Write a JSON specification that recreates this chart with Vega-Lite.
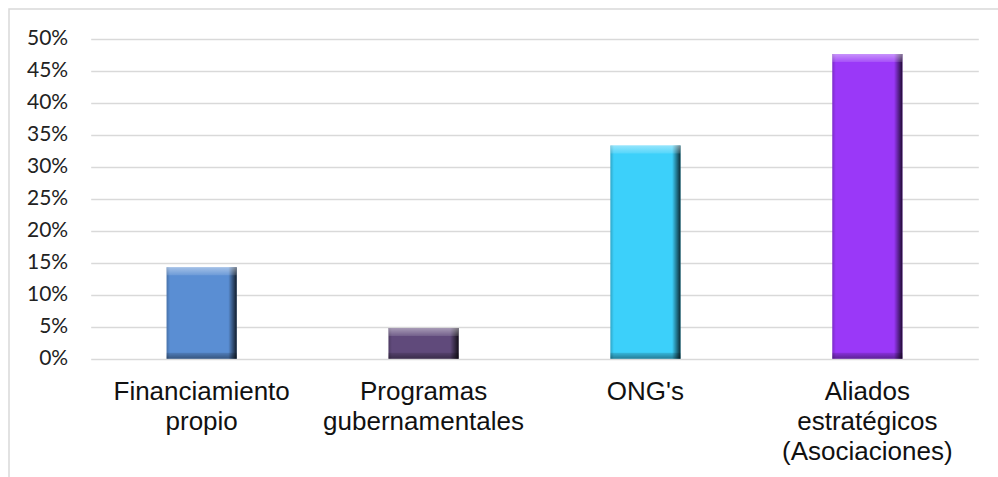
{
  "$schema": "https://vega.github.io/schema/vega-lite/v6.json",
  "autosize": {"type": "none"},
  "padding": {"left": 9, "top": 9, "right": -3, "bottom": -3},
  "width": 992,
  "height": 471,
  "background": "white",
  "config": {
    "view": {"stroke": "#d9d9d9", "strokeWidth": 1.5}
  },
  "data": {
    "values": [
      {"fuente": "Financiamiento propio", "porcentaje": 0.143},
      {"fuente": "Programas gubernamentales", "porcentaje": 0.048},
      {"fuente": "ONG's", "porcentaje": 0.333},
      {"fuente": "Aliados estratégicos (Asociaciones)", "porcentaje": 0.476}
    ]
  },
  "encoding": {
    "x": {
      "field": "fuente",
      "type": "nominal",
      "sort": null,
      "scale": {"range": [81.7, 969.3], "paddingInner": 0.684, "paddingOuter": 0.342},
      "axis": {
        "title": null,
        "orient": "bottom",
        "offset": -121.3,
        "domain": false,
        "ticks": false,
        "tickSize": 0,
        "grid": false,
        "labelAngle": 0,
        "labelAlign": "center",
        "labelBaseline": "top",
        "labelPadding": 20,
        "labelFont": "Liberation Sans",
        "labelFontSize": 26,
        "labelLineHeight": 30,
        "labelColor": "#111111",
        "labelLimit": 400,
        "labelExpr": "split(datum.label, ' ')"
      }
    },
    "y": {
      "field": "porcentaje",
      "type": "quantitative",
      "scale": {"domain": [-0.18953, 0.54641], "nice": false, "zero": false},
      "axis": {
        "title": null,
        "values": [0, 0.05, 0.1, 0.15, 0.2, 0.25, 0.3, 0.35, 0.4, 0.45, 0.5],
        "format": ".0%",
        "offset": -58.7,
        "domain": false,
        "ticks": false,
        "tickSize": 0,
        "labelPadding": 0,
        "labelFont": "Lato",
        "labelFontSize": 21,
        "labelColor": "#222222",
        "grid": true,
        "gridColor": "#d9d9d9",
        "gridWidth": 1.5
      }
    }
  },
  "layer": [
    {
      "mark": {"type": "bar"},
      "encoding": {
        "color": {
          "field": "fuente",
          "type": "nominal",
          "legend": null,
          "scale": {
            "domain": ["Financiamiento propio", "Programas gubernamentales", "ONG's", "Aliados estratégicos (Asociaciones)"],
            "range": ["#5a8ed3", "#604a7b", "#3cd0fa", "#9a38f8"]
          }
        }
      }
    },
    {
      "mark": {
        "type": "bar",
        "color": {
          "gradient": "linear",
          "x1": 0, "y1": 0, "x2": 1, "y2": 0,
          "stops": [
            {"offset": 0, "color": "rgba(0,0,0,0.2)"},
            {"offset": 0.05, "color": "rgba(0,0,0,0)"},
            {"offset": 0.88, "color": "rgba(0,0,0,0)"},
            {"offset": 0.94, "color": "rgba(0,0,0,0.4)"},
            {"offset": 1, "color": "rgba(0,0,0,0.8)"}
          ]
        }
      }
    },
    {
      "mark": {
        "type": "bar",
        "y2Offset": 8,
        "color": {
          "gradient": "linear",
          "x1": 0, "y1": 0, "x2": 0, "y2": 1,
          "stops": [
            {"offset": 0, "color": "rgba(255,255,255,0.45)"},
            {"offset": 1, "color": "rgba(255,255,255,0.12)"}
          ]
        }
      },
      "encoding": {
        "y2": {"field": "porcentaje"}
      }
    },
    {
      "mark": {
        "type": "bar",
        "yOffset": -6,
        "color": {
          "gradient": "linear",
          "x1": 0, "y1": 0, "x2": 0, "y2": 1,
          "stops": [
            {"offset": 0, "color": "rgba(0,0,0,0.12)"},
            {"offset": 1, "color": "rgba(0,0,0,0.4)"}
          ]
        }
      },
      "encoding": {
        "y": {"datum": 0},
        "y2": {"datum": 0}
      }
    }
  ]
}
